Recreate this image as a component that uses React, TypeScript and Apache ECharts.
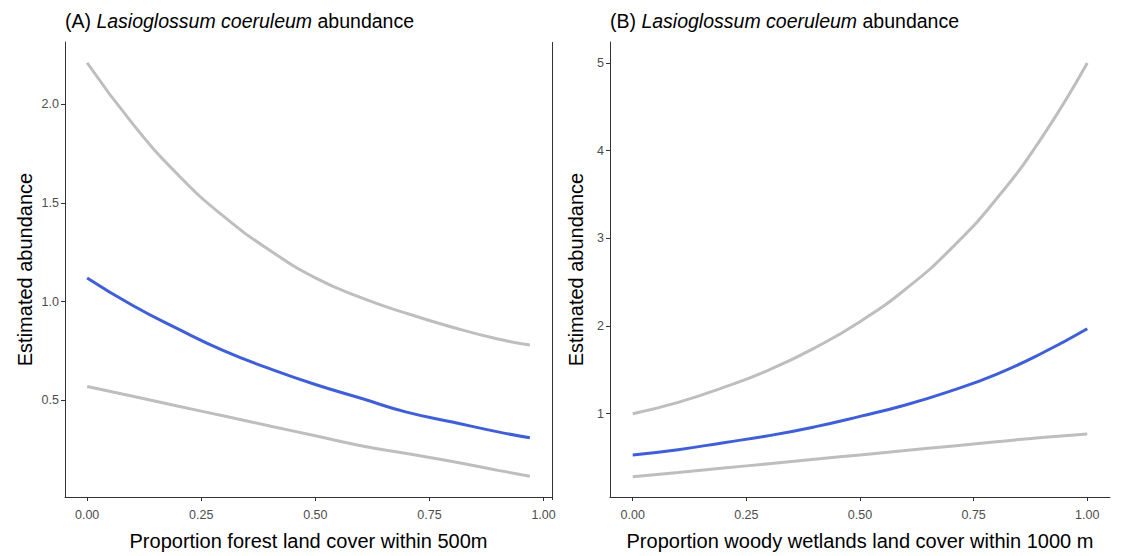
import React, { useEffect, useRef } from "react";
import * as echarts from "echarts";

// Panel A: forest land cover within 500 m
const xA = [0, 0.1, 0.2, 0.3, 0.4, 0.5, 0.6, 0.7, 0.8, 0.9, 0.97];
const upperA = [2.21, 1.9, 1.64, 1.43, 1.26, 1.12, 1.02, 0.94, 0.87, 0.81, 0.78];
const fitA = [1.12, 0.98, 0.86, 0.75, 0.66, 0.58, 0.51, 0.44, 0.39, 0.34, 0.31];
const lowerA = [0.57, 0.52, 0.47, 0.42, 0.37, 0.32, 0.27, 0.23, 0.19, 0.145, 0.115];

// Panel B: woody wetlands land cover within 1000 m
const xB = [0, 0.1, 0.2, 0.3, 0.4, 0.5, 0.6, 0.7, 0.8, 0.9, 1.0];
const upperB = [1.0, 1.13, 1.3, 1.5, 1.75, 2.05, 2.42, 2.88, 3.45, 4.15, 5.0];
const fitB = [0.53, 0.59, 0.67, 0.75, 0.85, 0.97, 1.1, 1.26, 1.45, 1.69, 1.97];
const lowerB = [0.28, 0.33, 0.38, 0.43, 0.48, 0.53, 0.58, 0.63, 0.68, 0.73, 0.77];

const xTicks = [0, 0.25, 0.5, 0.75, 1.0];
const yTicksA = [0.5, 1.0, 1.5, 2.0];
const yTicksB = [1, 2, 3, 4, 5];

const FONT = "Liberation Sans, Arial, sans-serif";
const GREY = "#bebebe";
const BLUE = "#3f5fd8";
const AXIS = "#333333";

const pairs = (xs: number[], ys: number[]) => xs.map((x, i) => [x, ys[i]]);

export default function App() {
  const ref = useRef<HTMLDivElement>(null);
  useEffect(() => {
    if (!ref.current) return;
    const chart = echarts.init(ref.current, undefined, { renderer: "svg" });
    const axisCommon = {
      type: "value" as const,
      splitLine: { show: false },
      axisLine: { show: true, onZero: false, lineStyle: { color: AXIS, width: 1 } },
      axisTick: { show: true, length: 4, lineStyle: { color: AXIS } },
      nameLocation: "middle" as const,
      nameTextStyle: { fontFamily: FONT, fontSize: 20, color: "#000" },
    };
    const xLabel = { color: "#4d4d4d", fontSize: 12.5, fontFamily: FONT, margin: 11 };
    const yLabel = { color: "#4d4d4d", fontSize: 12.5, fontFamily: FONT, margin: 6 };
    const titleStyle = {
      fontFamily: FONT,
      fontSize: 19.5,
      fontWeight: "normal" as const,
      color: "#000",
      rich: { i: { fontStyle: "italic" as const, fontFamily: FONT, fontSize: 19.5, color: "#000" } },
    };
    const line = (xi: number, data: number[][], color: string, z: number) => ({
      type: "line" as const,
      xAxisIndex: xi,
      yAxisIndex: xi,
      data,
      showSymbol: false,
      smooth: true,
      lineStyle: { color, width: 3 },
      z,
    });
    chart.setOption({
      animation: false,
      backgroundColor: "#ffffff",
      title: [
        { text: "(A) {i|Lasioglossum coeruleum} abundance", left: 60, top: 6, textStyle: titleStyle },
        { text: "(B) {i|Lasioglossum coeruleum} abundance", left: 605, top: 6, textStyle: titleStyle },
      ],
      grid: [
        { left: 65, top: 42, width: 487, height: 458 },
        { left: 610, top: 42, width: 500, height: 458 },
      ],
      xAxis: [
        {
          ...axisCommon,
          gridIndex: 0,
          min: -0.0485,
          max: 1.0185,
          name: "Proportion forest land cover within 500m",
          nameGap: 34,
          axisTick: { ...axisCommon.axisTick, customValues: xTicks },
          axisLabel: { ...xLabel, customValues: xTicks, formatter: (v: number) => v.toFixed(2) },
        },
        {
          ...axisCommon,
          gridIndex: 1,
          min: -0.05,
          max: 1.05,
          name: "Proportion woody wetlands land cover within 1000 m",
          nameGap: 34,
          axisTick: { ...axisCommon.axisTick, customValues: xTicks },
          axisLabel: { ...xLabel, customValues: xTicks, formatter: (v: number) => v.toFixed(2) },
        },
      ],
      yAxis: [
        {
          ...axisCommon,
          gridIndex: 0,
          min: 0.01,
          max: 2.315,
          name: "Estimated abundance",
          nameGap: 30,
          axisTick: { ...axisCommon.axisTick, customValues: yTicksA },
          axisLabel: { ...yLabel, customValues: yTicksA, formatter: (v: number) => v.toFixed(1) },
        },
        {
          ...axisCommon,
          gridIndex: 1,
          min: 0.05,
          max: 5.24,
          name: "Estimated abundance",
          nameGap: 24,
          axisTick: { ...axisCommon.axisTick, customValues: yTicksB },
          axisLabel: { ...yLabel, customValues: yTicksB, formatter: (v: number) => String(v) },
        },
      ],
      graphic: [
        {
          type: "line",
          shape: { x1: 552.5, y1: 42, x2: 552.5, y2: 500 },
          style: { stroke: AXIS, lineWidth: 1 },
        },
      ],
      series: [
        line(0, pairs(xA, upperA), GREY, 2),
        line(0, pairs(xA, lowerA), GREY, 2),
        line(0, pairs(xA, fitA), BLUE, 3),
        line(1, pairs(xB, upperB), GREY, 2),
        line(1, pairs(xB, lowerB), GREY, 2),
        line(1, pairs(xB, fitB), BLUE, 3),
      ],
    });
    return () => chart.dispose();
  }, []);
  return (
    <div
      ref={ref}
      style={{ position: "absolute", left: 0, top: 0, width: 1126, height: 556 }}
    />
  );
}
